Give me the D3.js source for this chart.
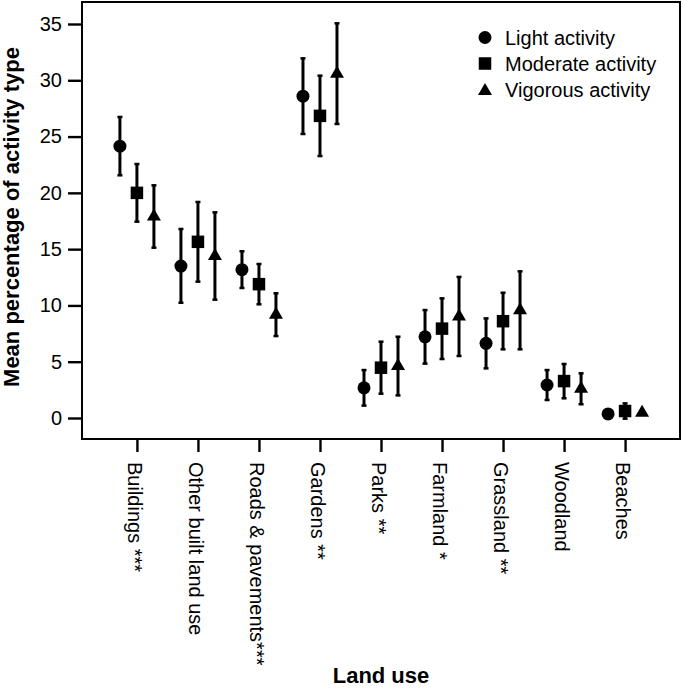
<!DOCTYPE html>
<html>
<head>
<meta charset="utf-8">
<script src="https://cdn.jsdelivr.net/npm/d3@7"></script>
<style>
  html, body { margin: 0; padding: 0; background: #fff; }
  svg { display: block; font-family: "Liberation Sans", Arial, sans-serif; }
</style>
</head>
<body>
<svg id="chart" width="683" height="689"></svg>
<script>
const categories = ["Buildings ***", "Other built land use", "Roads & pavements***", "Gardens **", "Parks **", "Farmland *", "Grassland **", "Woodland", "Beaches"];
const seriesNames = ["Light activity", "Moderate activity", "Vigorous activity"];

const lightMean = [24.15, 13.5, 13.18, 28.59, 2.68, 7.21, 6.63, 2.93, 0.36];
const lightLow  = [21.56, 10.24, 11.55, 25.23, 1.10, 4.83, 4.41, 1.60, 0.12];
const lightHigh = [26.74, 16.79, 14.81, 31.95, 4.26, 9.59, 8.85, 4.26, 0.60];

const moderateMean = [20.0, 15.65, 11.89, 26.84, 4.47, 7.94, 8.60, 3.28, 0.62];
const moderateLow  = [17.44, 12.11, 10.10, 23.27, 2.16, 5.24, 6.10, 1.75, -0.06];
const moderateHigh = [22.56, 19.19, 13.68, 30.41, 6.78, 10.63, 11.13, 4.80, 1.30];

const vigorousMean = [17.9, 14.39, 9.18, 30.59, 4.61, 9.02, 9.57, 2.60, 0.47];
const vigorousLow  = [15.13, 10.51, 7.28, 26.12, 2.01, 5.51, 6.10, 1.22, 0.30];
const vigorousHigh = [20.67, 18.27, 11.08, 35.06, 7.22, 12.53, 13.03, 3.97, 0.64];

const yTicks = [0, 5, 10, 15, 20, 25, 30, 35];

const svg = d3.select("#chart");
const pLeft = 82, pRight = 680, pTop = 2, pBottom = 439;

const x = d3.scalePoint().domain(categories).range([pLeft, pRight]).padding(0.9);
const y = d3.scaleLinear().domain([-1.865, 36.954]).range([pBottom, pTop]);

const series = [
  {name: seriesNames[0], shape: "circle",   offset: -17, mean: lightMean, low: lightLow, high: lightHigh},
  {name: seriesNames[1], shape: "square",   offset: 0,   mean: moderateMean, low: moderateLow, high: moderateHigh},
  {name: seriesNames[2], shape: "triangle", offset: 17,  mean: vigorousMean, low: vigorousLow, high: vigorousHigh}
];

function drawMarker(g, shape, cx, cy) {
  if (shape === "circle") {
    g.append("circle").attr("cx", cx).attr("cy", cy).attr("r", 6.5).attr("fill", "#000");
  } else if (shape === "square") {
    g.append("rect").attr("x", cx - 6.25).attr("y", cy - 6.25).attr("width", 12.5).attr("height", 12.5).attr("fill", "#000");
  } else {
    const w = 14, h = 12;
    g.append("path")
      .attr("d", `M${cx},${cy - h * 2 / 3}L${cx + w / 2},${cy + h / 3}L${cx - w / 2},${cy + h / 3}Z`)
      .attr("fill", "#000");
  }
}

// Y axis
const yAxis = d3.axisLeft(y).tickValues(yTicks).tickSize(14).tickPadding(6);
const yg = svg.append("g").attr("transform", `translate(${pLeft},0)`).call(yAxis);
yg.select(".domain").remove();
yg.selectAll(".tick line").attr("stroke", "#000").attr("stroke-width", 2.4);
yg.selectAll(".tick text").attr("font-size", 20).attr("fill", "#000")
  .attr("font-family", "'Liberation Sans', Arial, sans-serif");

// X axis
const xAxis = d3.axisBottom(x).tickSize(13).tickFormat("");
const xg = svg.append("g").attr("transform", `translate(0,${pBottom})`).call(xAxis);
xg.select(".domain").remove();
xg.selectAll(".tick line").attr("stroke", "#000").attr("stroke-width", 2.4);

svg.append("g").selectAll("text").data(categories).join("text")
  .attr("transform", d => `translate(${x(d) - 9},462) rotate(90)`)
  .attr("text-anchor", "start")
  .attr("font-size", 20)
  .attr("fill", "#000")
  .text(d => d);

// Frame
svg.append("rect").attr("x", pLeft).attr("y", pTop).attr("width", pRight - pLeft).attr("height", pBottom - pTop)
  .attr("fill", "none").attr("stroke", "#000").attr("stroke-width", 2);

// Error bars and markers
const plot = svg.append("g");
series.forEach(s => {
  categories.forEach((c, i) => {
    const cx = x(c) + s.offset;
    const eg = plot.append("g");
    eg.append("line").attr("x1", cx).attr("x2", cx).attr("y1", y(s.low[i])).attr("y2", y(s.high[i]))
      .attr("stroke", "#000").attr("stroke-width", 3);
    [s.low[i], s.high[i]].forEach(v => {
      eg.append("line").attr("x1", cx - 2.5).attr("x2", cx + 2.5).attr("y1", y(v)).attr("y2", y(v))
        .attr("stroke", "#000").attr("stroke-width", 2.5);
    });
  });
});
series.forEach(s => {
  categories.forEach((c, i) => {
    drawMarker(plot, s.shape, x(c) + s.offset, y(s.mean[i]));
  });
});

// Legend
const legend = svg.append("g");
series.forEach((s, i) => {
  const ly = 37.5 + i * 26;
  drawMarker(legend, s.shape, 485, ly + (s.shape === "triangle" ? 1.5 : 0));
  legend.append("text").attr("x", 505).attr("y", ly + 7).attr("font-size", 20).attr("fill", "#000").text(s.name);
});

// Axis titles
svg.append("text")
  .attr("transform", `translate(19,217) rotate(-90)`)
  .attr("text-anchor", "middle")
  .attr("font-size", 22).attr("font-weight", "bold").attr("fill", "#000")
  .text("Mean percentage of activity type");

svg.append("text")
  .attr("x", (pLeft + pRight) / 2).attr("y", 683)
  .attr("text-anchor", "middle")
  .attr("font-size", 22).attr("font-weight", "bold").attr("fill", "#000")
  .text("Land use");
</script>
</body>
</html>
